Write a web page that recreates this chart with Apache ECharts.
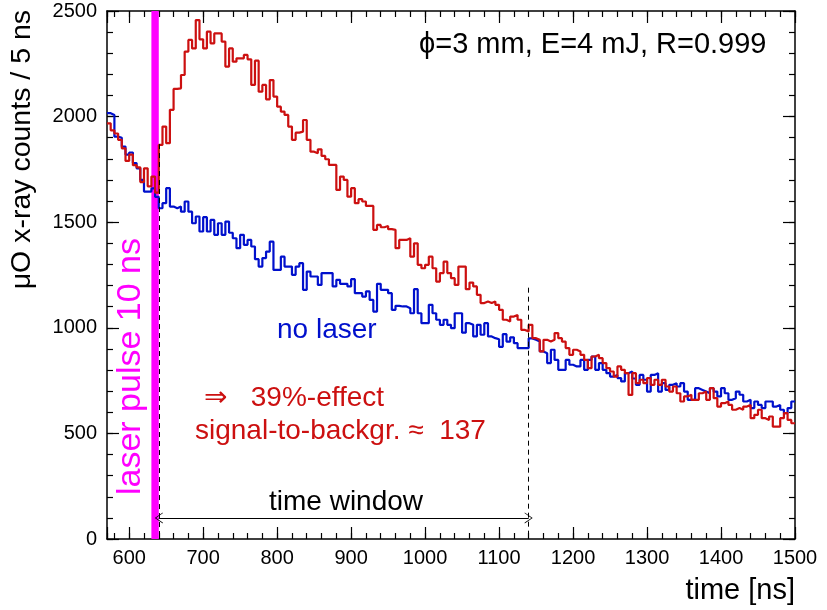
<!DOCTYPE html>
<html><head><meta charset="utf-8">
<script src="https://cdn.jsdelivr.net/npm/echarts@6/dist/echarts.min.js"></script>
<style>html,body{margin:0;padding:0;background:#fff}#c{width:827px;height:610px}</style>
</head><body><div id="c"></div>
<script>
// ---- data ----
const binStart = 570;   // ns, left edge of first bin
const binWidth = 5;     // ns per bin
const xRange = [570, 1500];
const yRange = [0, 2500];
const xMajorStep = 100, xMinorStep = 20;
const yMajorStep = 500, yMinorStep = 100;

// laser ON (red)
const laserCounts = [
  1968,1935,1920,1890,1850,1790,1820,1770,1760,1690,1755,1670,1716,1640,
  1866,1953,1874,2032,2131,2134,2197,2308,2363,2323,2457,2366,2323,2402,2347,2394,2394,2355,2237,2323,
  2260,2276,2276,2292,2271,2150,2265,2118,2150,2082,2173,2095,2047,2024,2008,1953,1890,1924,1929,1984,1890,1834,1826,1845,1814,1798,1771,1771,1653,1716,1700,1621,1661,1590,1609,1598,
  1577,1577,1464,1487,1476,1482,1467,1464,1377,1416,1416,1424,1337,1400,1298,1282,1298,1337,1282,1219,1259,1313,1259,1235,1203,1290,1290,1183,1214,1196,1156,1117,1125,1117,1125,1109,
  1085,1038,1030,1053,1061,1038,990,983,1014,951,943,888,943,935,943,975,951,935,904,872,896,888,872,848,809,864,872,856,833,809,793,769,817,801,785,682,
  785,738,754,738,762,730,754,730,754,722,698,722,690,651,675,683,659,659,690,698,659,714,667,627,643,651,635,612,620,612,627,635,572,588,612,572,564,580,532,532,572,596,564,548
];
// no laser (blue)
const noLaserCounts = [
  2016,2008,1905,1900,1858,1820,1830,1780,1755,1700,1645,1645,1660,1620,
  1566,1590,1661,1574,1566,1574,1550,1598,1550,1495,1527,1456,1524,1456,1511,1440,1495,1440,1503,1450,
  1424,1377,1440,1393,1416,1385,1325,1290,1330,1361,1408,1274,1274,1337,1290,1290,1251,1290,1306,1180,1266,1243,1243,1203,1259,1259,1259,1196,1227,1208,1208,1196,1230,1164,1164,1148,
  1172,1132,1077,1208,1180,1180,1164,1085,1104,1101,1101,1093,1069,1183,1069,1022,1022,1109,1069,1038,1014,1038,1014,998,1069,1069,977,1022,1014,959,1014,967,1022,959,951,946,
  910,970,935,955,927,904,904,904,950,943,935,888,880,833,896,848,801,801,848,825,817,817,848,801,848,864,801,833,801,785,769,777,762,746,785,793,
  760,730,777,754,698,777,785,698,738,706,730,738,722,738,698,659,659,714,706,698,690,714,698,675,714,690,659,667,698,683,651,659,620,651,635,620,651,651,627,635,612,596,620,651
];
const laserPulse = [630, 640];     // ns
const timeWindow = [640, 1140];    // ns
const windowArrowLevel = 100;      // counts
const windowLineTops = [1870, 1190];

// ---- build ----
function histSteps(vals) {
  const d = vals.map((v, i) => [binStart + i * binWidth, v]);
  d.push([binStart + vals.length * binWidth, vals[vals.length - 1]]);
  return d;
}
const FONT = 'Liberation Sans, Arial, Helvetica, DejaVu Sans, sans-serif';
const chevron = 'path://M0,0 L6,10 L5,10 L0,1.6 L-5,10 L-6,10 Z';
const BLUE = '#0010cc', RED = '#cc1010';
const W = 827, H = 610;
const G = { left: 107, right: 32, top: 11, bottom: 71 };
const gridW = W - G.left - G.right, gridH = H - G.top - G.bottom;
const span = xRange[1] - xRange[0];
const TICK = { color: '#000', width: 1.2 };

// frame axes (line + labels, no ticks)
function xFrame(pos, labels) {
  return { type: 'value', min: xRange[0], max: xRange[1], position: pos, splitNumber: Math.round(span / xMajorStep),
    axisLine: { show: true, onZero: false, lineStyle: { color: '#000', width: 1.5 } },
    axisTick: { show: false },
    axisLabel: { show: labels, color: '#000', fontSize: 20, fontFamily: FONT, margin: 9,
      formatter: v => (v % xMajorStep === 0 ? String(v) : '') },
    splitLine: { show: false } };
}
function yFrame(pos, labels) {
  return { type: 'value', min: yRange[0], max: yRange[1], position: pos, interval: yMajorStep,
    axisLine: { show: true, onZero: false, lineStyle: { color: '#000', width: 1.5 } },
    axisTick: { show: false },
    axisLabel: { show: labels, color: '#000', fontSize: 20, fontFamily: FONT, margin: 10, formatter: v => String(v) },
    splitLine: { show: false } };
}
// tick-only axes placed on the opposite edge so their outward ticks point into the frame
function xTicks(pos, step, len) {
  return { type: 'value', min: xRange[0], max: xRange[1], position: pos, offset: -gridH,
    splitNumber: Math.round(span / step),
    axisLine: { show: false, onZero: false }, axisLabel: { show: false }, splitLine: { show: false },
    axisTick: { show: true, inside: false, length: len, lineStyle: TICK } };
}
function yTicks(pos, step, len) {
  return { type: 'value', min: yRange[0], max: yRange[1], position: pos, offset: -gridW, interval: step,
    axisLine: { show: false, onZero: false }, axisLabel: { show: false }, splitLine: { show: false },
    axisTick: { show: true, inside: false, length: len, lineStyle: TICK } };
}

const chart = echarts.init(document.getElementById('c'), null, { renderer: 'canvas' });
chart.setOption({
  animation: false,
  backgroundColor: '#fff',
  grid: { left: G.left, right: G.right, top: G.top, bottom: G.bottom, containLabel: false },
  xAxis: [
    xFrame('bottom', true),
    xFrame('top', false),
    xTicks('top', xMajorStep, 12),     // drawn at the bottom edge, pointing up
    xTicks('top', xMinorStep, 6),
    xTicks('bottom', xMajorStep, 12),  // drawn at the top edge, pointing down
    xTicks('bottom', xMinorStep, 6)
  ],
  yAxis: [
    yFrame('left', true),
    yFrame('right', false),
    yTicks('right', yMajorStep, 12),   // drawn at the left edge, pointing right
    yTicks('right', yMinorStep, 6),
    yTicks('left', yMajorStep, 12),    // drawn at the right edge, pointing left
    yTicks('left', yMinorStep, 6)
  ],
  series: [
    {
      type: 'line', name: 'pulse', data: [], xAxisIndex: 0, yAxisIndex: 0, silent: true,
      markArea: {
        silent: true,
        itemStyle: { color: '#ff00ff', opacity: 1 },
        data: [[{ xAxis: laserPulse[0], yAxis: yRange[0] }, { xAxis: laserPulse[1], yAxis: yRange[1] }]]
      }
    },
    {
      type: 'line', name: 'no laser', step: 'end', data: histSteps(noLaserCounts), showSymbol: false, symbol: 'none',
      lineStyle: { color: BLUE, width: 2.2 }, itemStyle: { color: BLUE }, z: 3
    },
    {
      type: 'line', name: 'laser', step: 'end', data: histSteps(laserCounts), showSymbol: false, symbol: 'none',
      lineStyle: { color: RED, width: 2.2 }, itemStyle: { color: RED }, z: 4
    },
    {
      type: 'line', name: 'marks', data: [], silent: true, z: 5,
      markLine: {
        silent: true, symbol: 'none', label: { show: false },
        lineStyle: { color: '#000', width: 1, type: [5, 4] },
        data: [
          [{ coord: [timeWindow[0], windowLineTops[0]] }, { coord: [timeWindow[0], yRange[0]] }],
          [{ coord: [timeWindow[1], windowLineTops[1]] }, { coord: [timeWindow[1], yRange[0]] }]
        ]
      }
    },
    {
      type: 'line', name: 'arrow', data: [], silent: true, z: 5,
      markLine: {
        silent: true, symbol: [chevron, chevron], symbolSize: [11, 8], label: { show: false },
        lineStyle: { color: '#000', width: 1, type: 'solid' },
        data: [[{ coord: [timeWindow[0], windowArrowLevel] }, { coord: [timeWindow[1], windowArrowLevel] }]]
      }
    }
  ],
  graphic: [
    { type: 'text', x: 22, y: 10, rotation: Math.PI / 2,
      style: { text: 'μO x-ray counts / 5 ns', fontSize: 28.5, fontFamily: FONT, fill: '#000', align: 'right', verticalAlign: 'middle' } },
    { type: 'text', x: 795, y: 591,
      style: { text: 'time [ns]', fontSize: 29, fontFamily: FONT, fill: '#000', align: 'right', verticalAlign: 'middle' } },
    { type: 'text', x: 419, y: 45,
      style: { text: 'ϕ=3 mm, E=4 mJ, R=0.999', fontSize: 29, fontFamily: FONT, fill: '#000', align: 'left', verticalAlign: 'middle' } },
    { type: 'text', x: 277, y: 330,
      style: { text: 'no laser', fontSize: 28, fontFamily: FONT, fill: BLUE, align: 'left', verticalAlign: 'middle' } },
    { type: 'text', x: 204, y: 398,
      style: { text: '⇒   39%-effect', fontSize: 28, fontFamily: FONT, fill: RED, align: 'left', verticalAlign: 'middle' } },
    { type: 'text', x: 195, y: 431,
      style: { text: 'signal-to-backgr. ≈  137', fontSize: 28, fontFamily: FONT, fill: RED, align: 'left', verticalAlign: 'middle' } },
    { type: 'text', x: 269, y: 502,
      style: { text: 'time window', fontSize: 28, fontFamily: FONT, fill: '#000', align: 'left', verticalAlign: 'middle' } },
    { type: 'text', x: 131, y: 238, rotation: Math.PI / 2,
      style: { text: 'laser pulse 10 ns', fontSize: 34, fontFamily: FONT, fill: '#ff00ff', align: 'right', verticalAlign: 'middle' } }
  ]
});
</script>
</body></html>
